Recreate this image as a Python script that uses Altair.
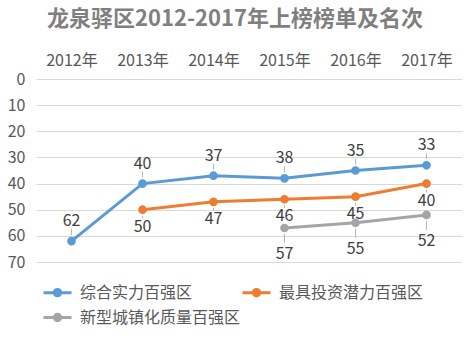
import altair as alt
import pandas as pd

years = ["2012年", "2013年", "2014年", "2015年", "2016年", "2017年"]
series_names = ["综合实力百强区", "最具投资潜力百强区", "新型城镇化质量百强区"]
rank_zonghe = [62, 40, 37, 38, 35, 33]
rank_touzi = [None, 50, 47, 46, 45, 40]
rank_chengzhen = [None, None, None, 57, 55, 52]
colors = ["#5B9BD5", "#ED7D31", "#A5A5A5"]
y_ticks = [0, 10, 20, 30, 40, 50, 60, 70]

rows = []
for name, vals in zip(series_names, [rank_zonghe, rank_touzi, rank_chengzhen]):
    for yr, v in zip(years, vals):
        if v is not None:
            rows.append({"year": yr, "series": name, "rank": v})
df = pd.DataFrame(rows)

FONT = "Noto Sans CJK SC"

x_enc = alt.X(
    "year:N", sort=years,
    scale=alt.Scale(type="point", padding=0.5),
    axis=alt.Axis(orient="top", title=None, labelAngle=0, ticks=False, tickSize=0,
                  domain=False, grid=False, labelFontSize=16, labelColor="#595959",
                  labelPadding=11, labelFont=FONT),
)
y_enc = alt.Y(
    "rank:Q",
    scale=alt.Scale(domain=[0, 70], reverse=True, nice=False, zero=False),
    axis=alt.Axis(values=y_ticks, title=None, ticks=False, tickSize=0, domain=False,
                  grid=True, gridColor="#D9D9D9", gridWidth=1, labelFontSize=16,
                  labelColor="#595959", labelPadding=11, labelFont=FONT),
)

legend = alt.Legend(
    title=None, orient="none", legendX=6, legendY=198, columns=2, direction="horizontal",
    symbolType="M-1,0L1,0M-0.23,0A0.23,0.23,0,1,1,0.23,0A0.23,0.23,0,1,1,-0.23,0",
    symbolSize=784, symbolStrokeWidth=3, symbolOpacity=1,
    labelFontSize=16, labelColor="#595959", labelFont=FONT, labelOffset=7, labelLimit=300,
    columnPadding=-7, rowPadding=-2,
)
color_scale = alt.Scale(domain=series_names, range=colors)

base = alt.Chart(df)

lines = base.mark_line(strokeWidth=3).encode(
    x=x_enc, y=y_enc,
    stroke=alt.Stroke("series:N", sort=series_names, scale=color_scale, legend=legend),
)
points = base.mark_point(filled=True, size=45, opacity=1).encode(
    x=x_enc, y=y_enc,
    fill=alt.Fill("series:N", sort=series_names, scale=color_scale, legend=legend),
    stroke=alt.Stroke("series:N", sort=series_names, scale=color_scale, legend=legend),
)

label_offsets = {series_names[0]: -20, series_names[1]: 17, series_names[2]: 26}
leader = {series_names[0]: (-6, -12), series_names[1]: (6, 9), series_names[2]: (6, 15)}

layers = [lines, points]
for name in series_names:
    sub = base.transform_filter(alt.datum.series == name)
    y0, y1 = leader[name]
    layers.append(
        sub.mark_rule(color="#A6A6A6", strokeWidth=0.8, yOffset=y0, y2Offset=y1).encode(
            x=x_enc, y=y_enc, y2=alt.Y2("rank:Q")
        )
    )
    layers.append(
        sub.mark_text(dy=label_offsets[name], fontSize=16, color="#404040", font=FONT).encode(
            x=x_enc, y=y_enc, text=alt.Text("rank:Q")
        )
    )

chart = alt.layer(*layers).properties(
    width=426, height=183,
    title=alt.TitleParams(
        "龙泉驿区2012-2017年上榜榜单及名次", fontSize=22, fontWeight="bold",
        color="#7F7F7F", font=FONT, anchor="middle", dx=-14, offset=21,
    ),
    autosize=alt.AutoSizeParams(type="none"),
    padding={"left": 36, "top": 79, "right": 13, "bottom": 77},
    background="white",
).configure_view(strokeWidth=0, stroke="transparent")

chart.save("out.html", embed_options={"renderer": "svg", "actions": False})
